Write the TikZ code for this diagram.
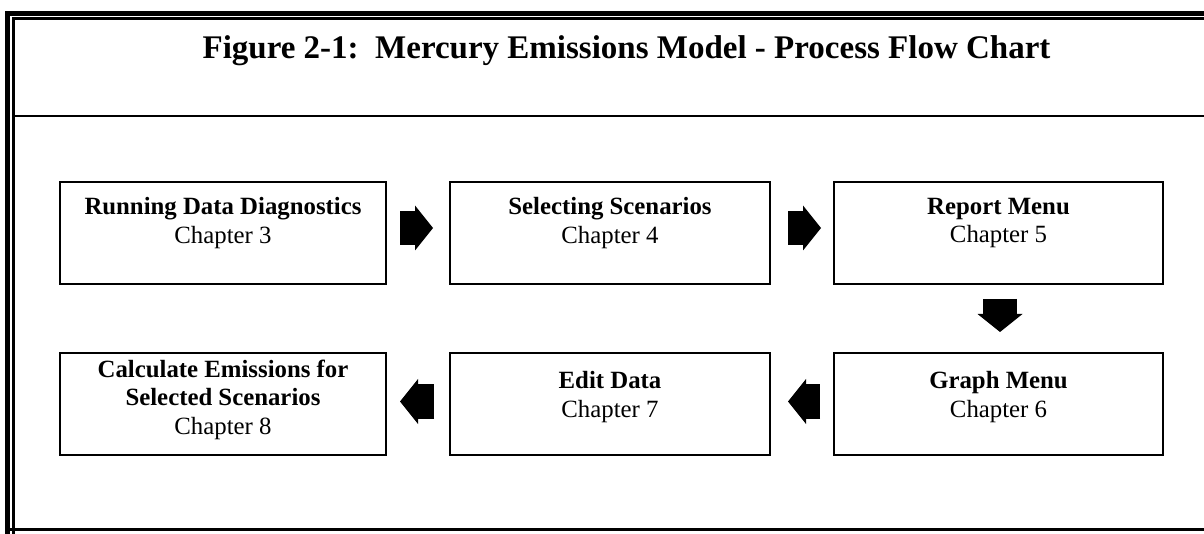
\documentclass[tikz,border=0pt]{standalone}
\usepackage{fontspec}
\setmainfont{Liberation Serif}
\usetikzlibrary{positioning,arrows.meta}
\begin{document}
\begin{tikzpicture}[x=1pt,y=1pt,node distance=62pt]
    \tikzstyle{chapbox} = [rectangle, minimum width=326pt, minimum height=102pt, inner sep=0pt, draw=black, line width=2pt, align=center, font=\fontsize{24.8}{28.5}\selectfont]
    \tikzstyle{fat} = [line width=34pt, -{Triangle[length=18pt,width=45pt,line width=0pt]}]
    \useasboundingbox (0,0) rectangle (1204,533);
    \draw[line width=5pt] (7.5,-5) -- (7.5,519.5) -- (1215,519.5);
    \draw[line width=3pt] (13.8,-5) -- (13.8,514.5) -- (1215,514.5);
    \draw[line width=2pt] (13.8,417) -- (1215,417);
    \draw[line width=3pt] (5,3.5) -- (1215,3.5);
    \node (title) [anchor=base, font=\fontsize{33}{38}\selectfont\bfseries] at (626.5,474) {Figure 2-1:\ \ Mercury Emissions Model - Process Flow Chart};

    \node (diag) [chapbox] at (223,300) {\textbf{Running Data Diagnostics}\\Chapter 3\\[-3pt]\mbox{}};
    \node (scen) [chapbox, minimum width=320pt, right=of diag] {\textbf{Selecting Scenarios}\\Chapter 4\\[-3pt]\mbox{}};
    \node (report) [chapbox, minimum width=329pt, right=of scen] {\textbf{Report Menu}\\Chapter 5\\[-3pt]\mbox{}};
    \node (graph) [chapbox, minimum width=329pt, below=67pt of report] {\textbf{Graph Menu}\\Chapter 6\\[-9pt]\mbox{}};
    \node (edit) [chapbox, minimum width=320pt, below=67pt of scen] {\textbf{Edit Data}\\Chapter 7\\[-9pt]\mbox{}};
    \node (calc) [chapbox, below=67pt of diag] {\textbf{Calculate Emissions for}\\\textbf{Selected Scenarios}\\Chapter 8\\[-15pt]\mbox{}};

    \draw[fat, shorten <=13pt, shorten >=16pt] ([yshift=5pt]diag.east) -- ([yshift=5pt]scen.west);
    \draw[fat, shorten <=17pt, shorten >=12pt] ([yshift=5pt]scen.east) -- ([yshift=5pt]report.west);
    \draw[fat, shorten <=14pt, shorten >=20pt] ([xshift=1.5pt]report.south) -- ([xshift=1.5pt]graph.north);
    \draw[fat, shorten <=13pt, shorten >=17pt] ([yshift=2.5pt]graph.west) -- ([yshift=2.5pt]edit.east);
    \draw[fat, shorten <=15pt, shorten >=13pt] ([yshift=2.5pt]edit.west) -- ([yshift=2.5pt]calc.east);
\end{tikzpicture}
\end{document}
